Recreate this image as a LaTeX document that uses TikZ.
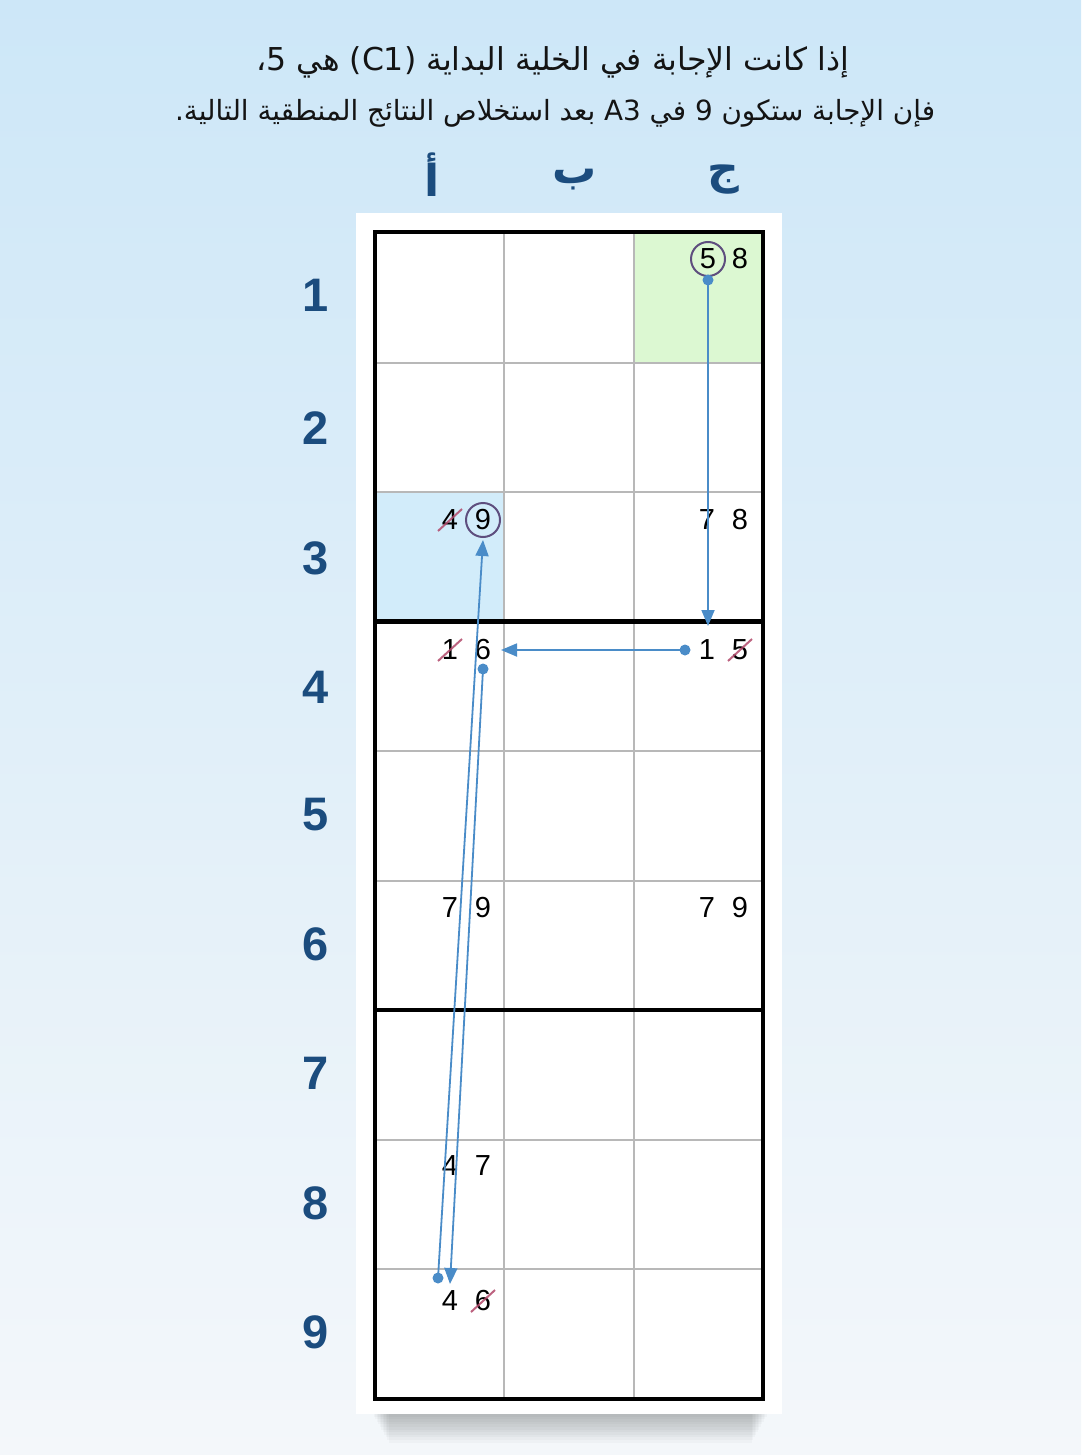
\documentclass[tikz,border=0pt]{standalone}
\usepackage{fontspec}
\setmainfont{Liberation Sans}
\newfontfamily\arabicfont[Script=Arabic]{DejaVu Sans}
\TeXXeTstate=1
\usetikzlibrary{arrows.meta}
\definecolor{bgtop}{HTML}{CDE7F8}
\definecolor{bgmid}{HTML}{E4F1FA}
\definecolor{bgbot}{HTML}{F4F7FA}
\definecolor{hdr}{HTML}{1B4C7E}
\definecolor{gridgray}{HTML}{B8B8B8}
\definecolor{cgreen}{HTML}{DCF8D2}
\definecolor{cblue}{HTML}{D2ECFA}
\definecolor{arrowblue}{HTML}{4A8CC8}
\definecolor{ringcol}{HTML}{5E4E7E}
\definecolor{strikecol}{HTML}{B2486A}
\tikzset{
  cand/.style={font=\fontsize{29}{29}\selectfont, inner sep=0pt, text=black},
  rownum/.style={font=\fontsize{47}{47}\selectfont\bfseries, text=hdr, inner sep=0pt},
  colhdr/.style={font=\arabicfont\fontsize{44}{44}\selectfont\bfseries, text=hdr, inner sep=0pt},
  titletext/.style={font=\arabicfont, text=black!92, inner sep=0pt},
  ringline/.style={draw=ringcol, line width=2pt},
  strikeline/.style={draw=strikecol, line width=2pt, opacity=0.85},
  link/.style={draw=arrowblue, line width=1.8pt, -{Triangle[length=16pt,width=13pt]}},
  linkdot/.style={fill=arrowblue},
  thingrid/.style={draw=gridgray, line width=2pt},
  boxline/.style={draw=black, line width=4.5pt},
}
\begin{document}
\begin{tikzpicture}[x=1pt,y=-1pt]
\useasboundingbox (0,0) rectangle (1081,1455);
% background
\shade[top color=bgtop, middle color=bgmid, bottom color=bgbot] (0,0) rectangle (1081,1455);
% soft shadow and panel
\foreach \k in {0,...,11}
  \fill[black, opacity=0.022] (372+\k*1.5,1405) rectangle (768-\k*1.5,1414+\k*2.6);
\fill[white] (356,213) rectangle (782,1414);
% titles
\node[titletext, font=\arabicfont\fontsize{31.5}{31.5}\selectfont] (title1) at (553,62)
  {\beginR إذا كانت الإجابة في الخلية البداية \beginL(C1)\endL{} هي 5\kern0pt،\endR};
\node[titletext, font=\arabicfont\fontsize{27.8}{27.8}\selectfont] (title2) at (555,113)
  {\beginR فإن الإجابة ستكون 9 في A3 بعد استخلاص النتائج المنطقية التالية\kern0pt.\endR};
% column headers
\node[colhdr] (hA) at (432,175) {أ};
\node[colhdr] (hB) at (575,180) {ب};
\node[colhdr] (hC) at (723,180) {ج};
% row numbers
\foreach \r/\yy in {1/295,2/428,3/558,4/687,5/815,6/944,7/1073,8/1203,9/1332}
  \node[rownum] (row\r) at (316,\yy) {\r};
% shaded cells
\fill[cgreen] (633.7,233) rectangle (763,362.5);
\fill[cblue] (375,492) rectangle (504.3,621.5);
% thin grid
\foreach \xx in {504.3,633.7}
  \draw[thingrid] (\xx,233) -- (\xx,1399);
\foreach \yy in {362.5,492,751,880.5,1139.5,1269}
  \draw[thingrid] (375,\yy) -- (763,\yy);
% thick box lines
\draw[boxline] (375,621.5) -- (763,621.5);
\draw[boxline] (375,1010) -- (763,1010);
\draw[boxline] (375,232) rectangle (763,1399);
% candidates
\node[cand] (C1a) at (708,259) {5};
\node[cand] (C1b) at (740,259) {8};
\node[cand] (A3a) at (450,520) {4};
\node[cand] (A3b) at (483,520) {9};
\node[cand] (C3a) at (707,520) {7};
\node[cand] (C3b) at (740,520) {8};
\node[cand] (A4a) at (450,650) {1};
\node[cand] (A4b) at (483,650) {6};
\node[cand] (C4a) at (707,650) {1};
\node[cand] (C4b) at (740,650) {5};
\node[cand] (A6a) at (450,908) {7};
\node[cand] (A6b) at (483,908) {9};
\node[cand] (C6a) at (707,908) {7};
\node[cand] (C6b) at (740,908) {9};
\node[cand] (A8a) at (450,1166) {4};
\node[cand] (A8b) at (483,1166) {7};
\node[cand] (A9a) at (450,1301) {4};
\node[cand] (A9b) at (483,1301) {6};
% rings
\draw[ringline] (C1a.center) circle (17pt);
\draw[ringline] (A3b.center) circle (17pt);
% strikes
\foreach \n in {A3a,A4a,C4b,A9b}
  \draw[strikeline] ([shift={(-12,11)}]\n.center) -- ([shift={(12,-11)}]\n.center);
% connectors
\coordinate (d1) at (708,280); \coordinate (t1) at (708,626);
\coordinate (d2) at (685,650); \coordinate (t2) at (501,650);
\coordinate (d3) at (483,669); \coordinate (t3) at (450,1284);
\coordinate (d4) at (438,1278); \coordinate (t4) at (483,540);
\draw[link] (d1) -- (t1);
\draw[link] (d2) -- (t2);
\draw[link] (d3) -- (t3);
\draw[link] (d4) -- (t4);
\foreach \d in {d1,d2,d3,d4}
  \fill[linkdot] (\d) circle (5.5pt);
\end{tikzpicture}
\end{document}
